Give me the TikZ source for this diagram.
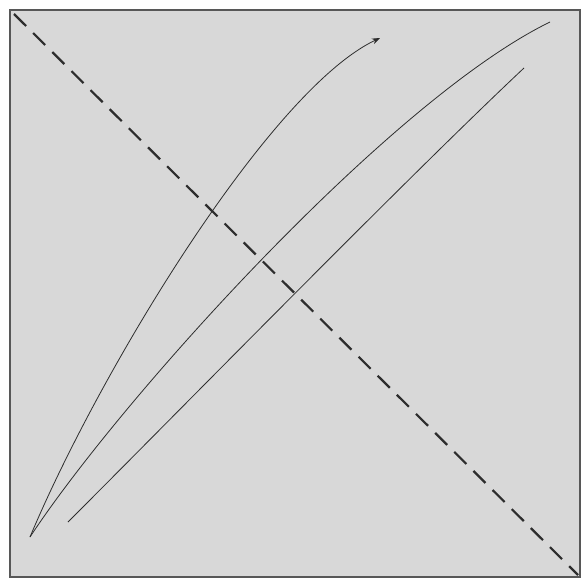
\documentclass[tikz,border=0pt]{standalone}
\usetikzlibrary{arrows.meta}
\definecolor{bgcol}{RGB}{216,216,216}
\definecolor{ink}{RGB}{45,45,45}
\begin{document}
\begin{tikzpicture}[x=1pt,y=-1pt,
  curve/.style={draw=ink,line width=0.8pt},
  diag/.style={draw=ink,line width=2.2pt,dash pattern=on 17pt off 10pt},
  frame/.style={draw=ink!80,line width=2pt,fill=bgcol}]
\useasboundingbox (0,0) rectangle (582,578);
\fill[white] (0,0) rectangle (582,578);
\draw[frame] (10,10) rectangle (580,577);
\coordinate (o) at (30,537);
\coordinate (a) at (380,38);
\coordinate (b) at (550,22);
\coordinate (c0) at (68,522);
\coordinate (c1) at (524,68);
\coordinate (d0) at (14,14);
\coordinate (d1) at (578,575);
\draw[diag] (d0) -- (d1);
\draw[curve,-{Stealth[length=8pt,width=6pt]}] (o) .. controls (100,370) and (270,90) .. (a);
\draw[curve] (o) .. controls (120,400) and (390,100) .. (b);
\draw[curve] (c0) .. controls (180,410) and (410,175) .. (c1);
\end{tikzpicture}
\end{document}
